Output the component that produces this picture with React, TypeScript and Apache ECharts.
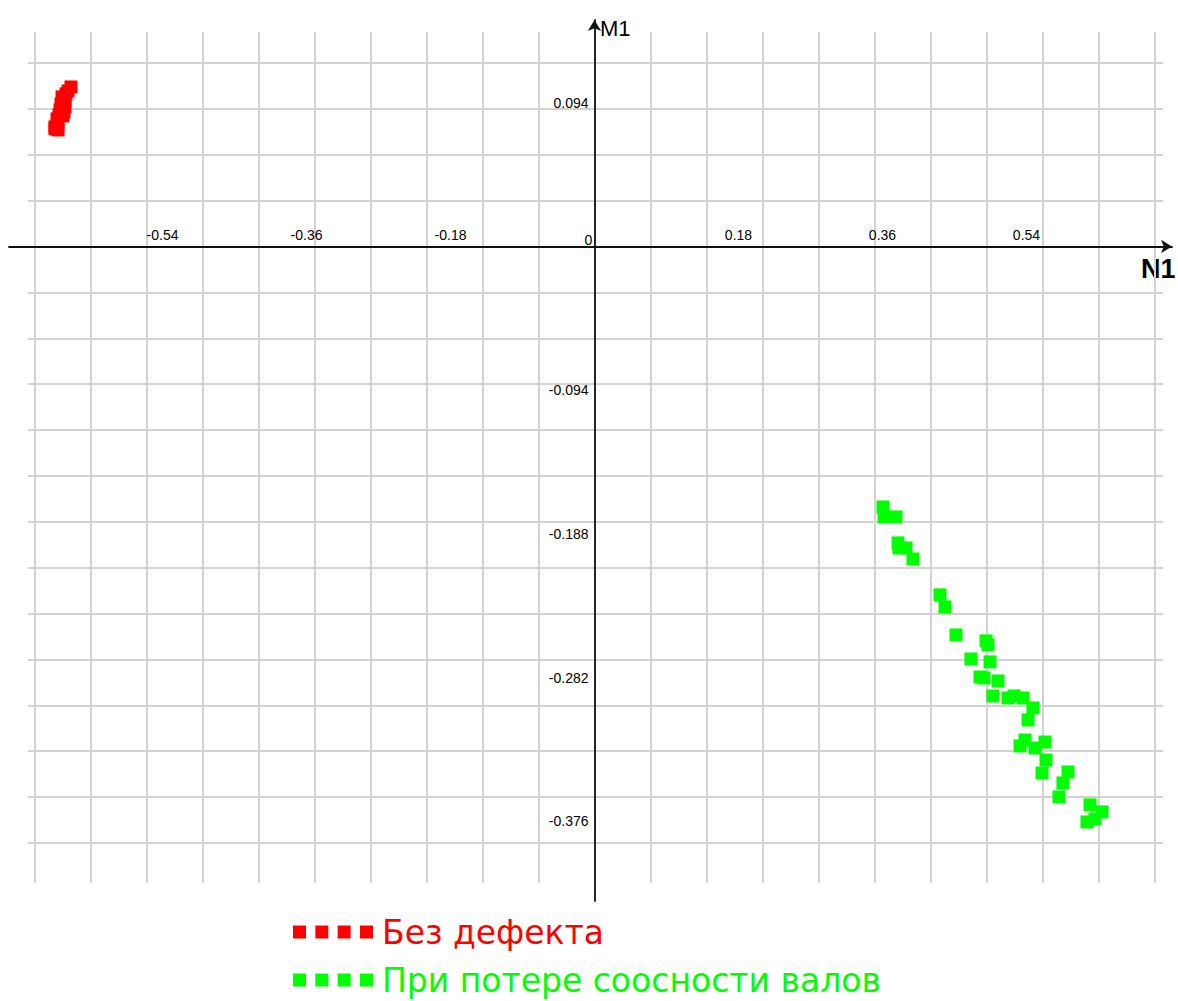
import React, { useEffect, useRef } from "react";
import * as echarts from "echarts";

// Tick label values shown on the axes
const xLabelValues = [-0.54, -0.36, -0.18, 0, 0.18, 0.36, 0.54];
const yLabelValues = [0.094, -0.094, -0.188, -0.282, -0.376];

// Series names
const seriesNames = ["Без дефекта", "При потере соосности валов"];

// [N1, M1] points — no defect
const noDefect: [number, number][] = [
  [-0.6544, 0.1043], [-0.6581, 0.1017], [-0.6606, 0.0998], [-0.6656, 0.0978],
  [-0.6619, 0.0958], [-0.6669, 0.0932], [-0.6619, 0.0913], [-0.6681, 0.0893],
  [-0.6631, 0.088], [-0.6694, 0.086], [-0.6644, 0.0854], [-0.6719, 0.0834],
  [-0.6706, 0.0808], [-0.6744, 0.0782], [-0.6744, 0.0769], [-0.6706, 0.0762],
];

// [N1, M1] points — shaft misalignment
const misalignment: [number, number][] = [
  [0.3606, -0.1704], [0.3619, -0.1769], [0.3769, -0.1769], [0.3794, -0.1939],
  [0.3806, -0.1972], [0.3894, -0.1972], [0.3981, -0.2044], [0.4319, -0.2279],
  [0.4381, -0.2358], [0.4519, -0.2541], [0.4894, -0.258], [0.4919, -0.2606],
  [0.4706, -0.2698], [0.4944, -0.2717], [0.4819, -0.2816], [0.4869, -0.2822],
  [0.5044, -0.2842], [0.4981, -0.294], [0.5169, -0.2953], [0.5244, -0.294],
  [0.5356, -0.2953], [0.5481, -0.3018], [0.5419, -0.3097], [0.5381, -0.3228],
  [0.5319, -0.3267], [0.5506, -0.328], [0.5631, -0.3241], [0.5644, -0.3359],
  [0.5594, -0.3444], [0.5919, -0.3437], [0.5856, -0.3509], [0.5806, -0.36],
  [0.6194, -0.3652], [0.6344, -0.3698], [0.6256, -0.3744], [0.6156, -0.3764],
];

const seriesColors = ["#ff0000", "#00ff00"];

export default function App() {
  const ref = useRef<HTMLDivElement>(null);

  useEffect(() => {
    if (!ref.current) return;
    const chart = echarts.init(ref.current, null, { renderer: "svg" });

    const gridLine = { show: true, lineStyle: { color: "#d2d2d2", width: 2 } };
    const hidden = { show: false };
    const legendIcon =
      "path://M0,0h13v13h-13z M22.33,0h13v13h-13z M44.67,0h13v13h-13z M67,0h13v13h-13z";

    // data grid: left 9, right edge 1172, top 20, bottom edge 901; origin at (594.5, 246.5)
    const option: any = {
      animation: false,
      backgroundColor: "#ffffff",
      textStyle: { fontFamily: "Liberation Sans" },
      grid: [
        // vertical grid lines
        { left: 35, right: 23, top: 32, bottom: 118, outerBoundsMode: "none", containLabel: false },
        // horizontal grid lines
        { left: 28, right: 15, top: 63, bottom: 158, outerBoundsMode: "none", containLabel: false },
        // data / axes
        { left: 9, right: 6, top: 20, bottom: 100, outerBoundsMode: "none", containLabel: false },
      ],
      xAxis: [
        {
          gridIndex: 0, type: "value", min: -0.7, max: 0.7, interval: 0.07,
          axisLine: hidden, axisTick: hidden, axisLabel: hidden, splitLine: gridLine,
        },
        {
          gridIndex: 1, type: "value", min: -0.7, max: 0.7, show: false,
          splitLine: hidden,
        },
        {
          gridIndex: 2, type: "value", min: -0.7319, max: 0.7219,
          position: "bottom",
          offset: -654.5,
          axisLine: {
            onZero: false,
            symbol: ["none", "arrow"],
            symbolSize: [10, 11],
            lineStyle: { color: "#111111", width: 1.8 },
          },
          axisTick: hidden,
          splitLine: hidden,
          axisLabel: {
            inside: true,
            margin: 0,
            customValues: xLabelValues,
            fontSize: 14,
            color: "#000",
            formatter: (v: number) => (v === 0 ? "{z|0}" : "{n|" + v + "}"),
            rich: {
              z: { fontSize: 14, padding: [0, 12, 0, 0], color: "#000" },
              n: { fontSize: 14, padding: [0, 0, 5, 0], color: "#000" },
            },
          },
        },
      ],
      yAxis: [
        {
          gridIndex: 0, type: "value", min: -0.39, max: 0.12, show: false,
          splitLine: hidden,
        },
        {
          gridIndex: 1, type: "value", min: -0.39, max: 0.12, interval: 0.03,
          axisLine: hidden, axisTick: hidden, axisLabel: hidden, splitLine: gridLine,
        },
        {
          gridIndex: 2, type: "value", min: -0.4281, max: 0.1481,
          position: "left",
          offset: -585.5,
          axisLine: {
            onZero: false,
            symbol: ["none", "arrow"],
            symbolSize: [10, 11],
            lineStyle: { color: "#111111", width: 1.8 },
          },
          axisTick: hidden,
          splitLine: hidden,
          axisLabel: {
            margin: 6,
            customValues: yLabelValues,
            fontSize: 14,
            color: "#000",
            formatter: (v: number) => String(v),
          },
        },
      ],
      legend: {
        orient: "vertical",
        left: 293,
        top: 915.5,
        height: 100,
        padding: 0,
        itemGap: 15,
        itemWidth: 80,
        itemHeight: 13,
        icon: legendIcon,
        selectedMode: false,
        textStyle: {
          fontFamily: "DejaVu Sans",
          fontSize: 33,
          lineHeight: 33,
          padding: [0, 0, 0, 4],
        },
        data: seriesNames.map((name, i) => ({
          name,
          textStyle: { color: seriesColors[i] },
        })),
      },
      graphic: [
        {
          type: "text",
          left: 600,
          top: 17,
          style: {
            text: "M1",
            fontSize: 22,
            fontFamily: "Liberation Sans",
            fill: "#000",
          },
        },
        {
          type: "text",
          left: 1141,
          top: 255,
          style: {
            text: "N1",
            fontSize: 27,
            fontWeight: "bold",
            fontFamily: "Liberation Sans",
            fill: "#000",
          },
        },
      ],
      series: [
        {
          name: seriesNames[0],
          type: "scatter",
          xAxisIndex: 2,
          yAxisIndex: 2,
          symbol: "rect",
          symbolSize: 13,
          itemStyle: { color: seriesColors[0], opacity: 1 },
          data: noDefect,
        },
        {
          name: seriesNames[1],
          type: "scatter",
          xAxisIndex: 2,
          yAxisIndex: 2,
          symbol: "rect",
          symbolSize: 13,
          itemStyle: { color: seriesColors[1], opacity: 1 },
          data: misalignment,
        },
      ],
    };

    chart.setOption(option);
    return () => chart.dispose();
  }, []);

  return (
    <div
      ref={ref}
      style={{ position: "absolute", left: 0, top: 0, width: 1178, height: 1001 }}
    />
  );
}
